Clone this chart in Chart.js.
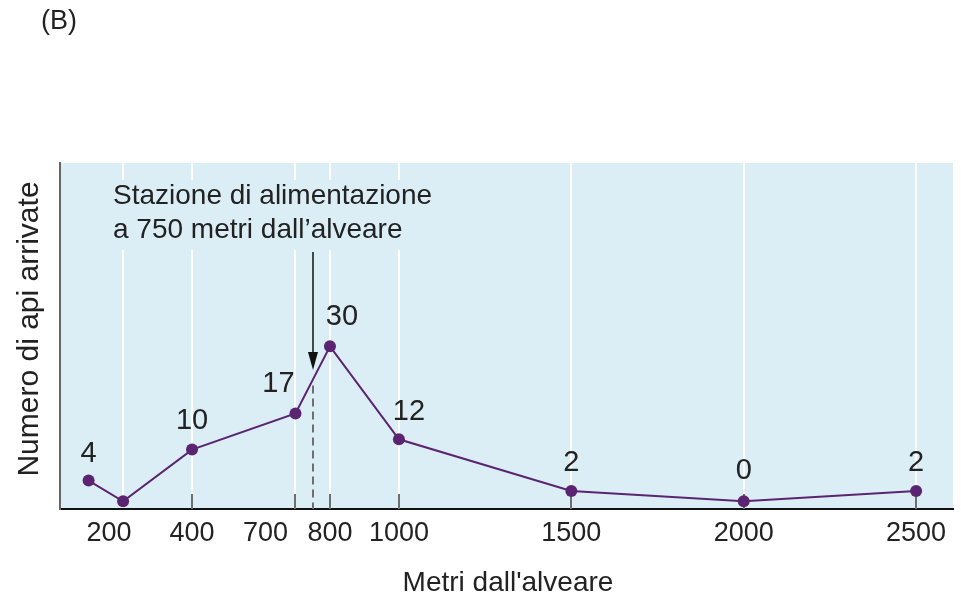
<!DOCTYPE html>
<html>
<head>
<meta charset="utf-8">
<script src="https://cdn.jsdelivr.net/npm/chart.js@4.4.1/dist/chart.umd.min.js"></script>
<style>
  html, body { margin: 0; padding: 0; background: #fff; }
  #wrap { position: relative; width: 961px; height: 606px; }
</style>
</head>
<body>
<div id="wrap"><canvas id="beeChart" width="961" height="606"></canvas></div>
<script>
// distanza (m) e api arrivate
const distances = [100, 200, 400, 700, 800, 1000, 1500, 2000, 2500];
const arrivals = [4, 0, 10, 17, 30, 12, 2, 0, 2];
const shownLabels = ['4', '', '10', '17', '30', '12', '2', '0', '2'];
const tickValues = [200, 400, 700, 800, 1000, 1500, 2000, 2500];
const tickLabels = ['200', '400', '700', '800', '1000', '1500', '2000', '2500'];
const stationDistance = 750;

const FONT = '"Liberation Sans", Arial, Helvetica, sans-serif';
const BG = '#dbeef6';
const PURPLE = '#5b2470';

// shift some tick labels sideways so 700/800 don't collide
const tickShift = { 200: -14, 700: -30 };
// label offsets next to each point [dx, dy]
const labelShift = [[0, -27], [0, 0], [0, -29], [-17, -29], [12, -29], [10, -27], [0, -28], [0, -30], [0, -28]];

const decorations = {
  id: 'decorations',
  beforeDraw(chart) {
    const { ctx, chartArea: a } = chart;
    ctx.save();
    ctx.fillStyle = BG;
    ctx.fillRect(a.left, a.top, a.right - a.left, a.bottom - a.top);
    ctx.restore();
  },
  beforeDatasetsDraw(chart) {
    const { ctx, chartArea: a, scales: { x, y } } = chart;
    ctx.save();
    // box behind the note so the grid stops there
    ctx.fillStyle = BG;
    ctx.fillRect(110, 180, 340, 70);

    // small grey ticks on the bottom axis
    ctx.strokeStyle = '#6f6f6f';
    ctx.lineWidth = 2;
    tickValues.forEach(v => {
      if (v === 200) return;
      const px = Math.round(x.getPixelForValue(v));
      ctx.beginPath();
      ctx.moveTo(px, a.bottom - 15);
      ctx.lineTo(px, a.bottom);
      ctx.stroke();
    });

    // dashed line at the feeding station
    const sx = Math.round(x.getPixelForValue(stationDistance));
    ctx.setLineDash([8, 5]);
    ctx.beginPath();
    ctx.moveTo(sx, y.getPixelForValue(22.4));
    ctx.lineTo(sx, a.bottom);
    ctx.stroke();
    ctx.setLineDash([]);

    // arrow from the note
    const yTop = 252, yTip = y.getPixelForValue(25.4);
    ctx.strokeStyle = '#111';
    ctx.fillStyle = '#111';
    ctx.lineWidth = 1.5;
    ctx.beginPath();
    ctx.moveTo(sx, yTop);
    ctx.lineTo(sx, yTip - 6);
    ctx.stroke();
    ctx.beginPath();
    ctx.moveTo(sx - 5, yTip - 18);
    ctx.lineTo(sx + 5, yTip - 18);
    ctx.lineTo(sx, yTip);
    ctx.closePath();
    ctx.fill();

    // note text
    ctx.fillStyle = '#222';
    ctx.font = '28px ' + FONT;
    ctx.textBaseline = 'middle';
    ctx.textAlign = 'left';
    ctx.fillText('Stazione di alimentazione', 113, 196);
    ctx.fillText('a 750 metri dall\u2019alveare', 113, 230);
    ctx.restore();
  },
  afterDatasetsDraw(chart) {
    const { ctx, scales: { x, y } } = chart;
    ctx.save();
    ctx.fillStyle = '#222';
    ctx.font = '29px ' + FONT;
    ctx.textAlign = 'center';
    ctx.textBaseline = 'middle';
    // value labels
    distances.forEach((d, i) => {
      if (!shownLabels[i]) return;
      const px = x.getPixelForValue(d) + labelShift[i][0];
      const py = y.getPixelForValue(arrivals[i]) + labelShift[i][1];
      ctx.fillText(shownLabels[i], px, py);
    });
    // x tick labels
    ctx.font = '27px ' + FONT;
    tickValues.forEach((v, i) => {
      ctx.fillText(tickLabels[i], x.getPixelForValue(v) + (tickShift[v] || 0), 534);
    });
    // axis titles
    ctx.font = '28px ' + FONT;
    ctx.fillText("Metri dall'alveare", 508, 583);
    ctx.save();
    ctx.translate(30, 329);
    ctx.rotate(-Math.PI / 2);
    ctx.font = '30px ' + FONT;
    ctx.fillText('Numero di api arrivate', 0, 0);
    ctx.restore();
    ctx.font = '27px ' + FONT;
    ctx.textAlign = 'left';
    ctx.fillText('(B)', 41, 22);
    ctx.restore();
  }
};

new Chart(document.getElementById('beeChart'), {
  type: 'line',
  data: {
    datasets: [{
      data: distances.map((d, i) => ({ x: d, y: arrivals[i] })),
      borderColor: PURPLE,
      backgroundColor: PURPLE,
      borderWidth: 2,
      pointRadius: 6,
      pointBackgroundColor: PURPLE,
      pointBorderWidth: 0,
      tension: 0,
      clip: false
    }]
  },
  options: {
    responsive: false,
    animation: false,
    layout: { padding: { top: 163, right: 8, left: 0, bottom: 0 } },
    plugins: { legend: { display: false }, tooltip: { enabled: false } },
    scales: {
      x: {
        type: 'linear',
        min: 17,
        max: 2607,
        afterBuildTicks: scale => { scale.ticks = tickValues.map(v => ({ value: v })); },
        afterFit: scale => { scale.height = 97; },
        ticks: { display: false },
        grid: { color: '#ffffff', lineWidth: 2, drawTicks: false },
        border: { color: '#111', width: 2 }
      },
      y: {
        min: -1.5,
        max: 65.5,
        afterFit: scale => { scale.width = 60; },
        ticks: { display: false },
        grid: { display: false, drawTicks: false },
        border: { color: '#666', width: 2 }
      }
    }
  },
  plugins: [decorations]
});
</script>
</body>
</html>
